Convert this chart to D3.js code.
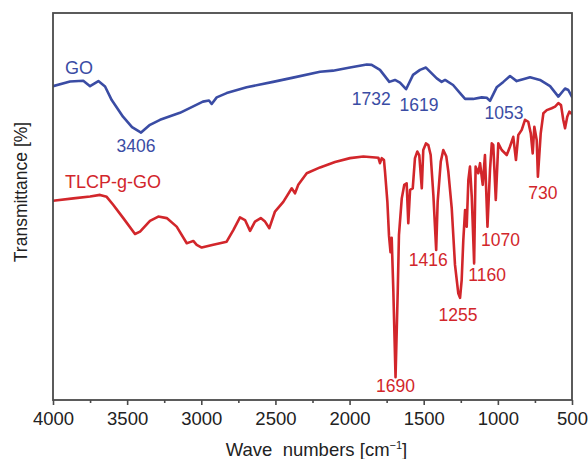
<!DOCTYPE html>
<html>
<head>
<meta charset="utf-8">
<script src="https://cdn.jsdelivr.net/npm/d3@7"></script>
<style>
  html, body { margin: 0; padding: 0; background: #fff; }
  svg { display: block; }
  text { font-family: "Liberation Sans", Arial, Helvetica, sans-serif; }
</style>
</head>
<body>
<div id="chart"></div>
<script>
// FTIR spectra: GO and TLCP-g-GO (wavenumber in cm-1, transmittance in arbitrary %)
const xTicks = [4000, 3500, 3000, 2500, 2000, 1500, 1000, 500];
const xMinorTicks = [3750, 3250, 2750, 2250, 1750, 1250, 750];

const goWave = [4000, 3885, 3796, 3750, 3694, 3649, 3604, 3528, 3467, 3406,
  3346, 3278, 3144, 2989, 2948, 2930, 2896, 2829, 2694, 2516,
  2381, 2199, 2112, 1997, 1884, 1851, 1795, 1732, 1694, 1660,
  1619, 1572, 1525, 1485, 1446, 1412, 1379, 1356, 1302, 1255,
  1221, 1167, 1109, 1075, 1053, 1008, 963, 918, 873, 830,
  783, 716, 648, 592, 547, 525, 500];
const goT = [81.1, 82.3, 82.5, 81.1, 82.4, 81.0, 77.5, 73.2, 70.5, 69.1,
  71.1, 72.4, 74.2, 77.1, 77.4, 76.5, 78.2, 79.3, 80.8, 82.2,
  83.3, 84.8, 85.1, 85.9, 86.7, 86.6, 85.3, 82.2, 82.7, 82.0,
  80.3, 84.0, 85.3, 85.9, 84.4, 83.1, 82.2, 82.7, 81.4, 79.3,
  77.8, 77.8, 78.2, 78.1, 77.3, 80.8, 82.2, 83.7, 82.4, 82.9,
  83.4, 82.7, 81.1, 78.4, 80.5, 80.1, 78.3];

const tlcpWave = [4000, 3863, 3750, 3683, 3638, 3593, 3526, 3447, 3413, 3346,
  3290, 3233, 3166, 3098, 3076, 3054, 3031, 2997, 2919, 2829,
  2784, 2739, 2705, 2671, 2638, 2599, 2570, 2541, 2503, 2447,
  2390, 2368, 2346, 2289, 2199, 2098, 1997, 1907, 1806, 1795,
  1783, 1768, 1761, 1745, 1734, 1724, 1716, 1705, 1690, 1675,
  1667, 1648, 1631, 1615, 1604, 1592, 1574, 1559, 1543, 1530,
  1513, 1503, 1485, 1469, 1453, 1435, 1416, 1406, 1385, 1368,
  1348, 1334, 1311, 1289, 1267, 1255, 1244, 1233, 1221, 1210,
  1199, 1188, 1176, 1160, 1150, 1132, 1120, 1102, 1087, 1070,
  1053, 1041, 1031, 1014, 997, 974, 940, 918, 896, 878,
  862, 839, 817, 795, 778, 765, 754, 738, 730, 711,
  693, 670, 637, 614, 592, 574, 559, 547, 532, 518, 500];
const tlcpT = [51.5, 52.1, 52.6, 53.0, 52.5, 50.4, 47.0, 42.9, 43.5, 46.3,
  47.4, 47.0, 44.8, 40.5, 40.8, 41.1, 40.1, 39.4, 40.1, 40.9,
  43.9, 47.2, 46.5, 43.7, 46.1, 47.0, 46.1, 44.4, 48.7, 51.2,
  54.7, 53.4, 55.6, 58.6, 60.1, 61.5, 62.5, 62.9, 62.6, 61.2,
  62.5, 62.0, 59.0, 51.2, 42.4, 38.2, 41.9, 28.4, 5.9, 28.4,
  42.6, 52.1, 55.6, 56.0, 45.7, 54.3, 54.7, 62.5, 64.2, 63.3,
  54.7, 64.6, 66.3, 65.9, 63.3, 53.0, 38.8, 51.2, 61.6, 64.6,
  63.0, 59.0, 49.5, 34.9, 27.6, 26.4, 31.0, 41.3, 49.1, 44.8,
  56.8, 60.3, 52.5, 35.3, 60.3, 58.6, 61.2, 55.6, 63.3, 44.8,
  59.4, 66.3, 65.9, 51.7, 66.3, 64.6, 63.3, 65.5, 68.0, 62.0,
  68.5, 69.8, 72.4, 71.9, 68.9, 63.7, 70.6, 67.2, 57.7, 68.9,
  74.1, 74.9, 75.4, 75.8, 76.7, 76.2, 72.4, 70.2, 73.2, 74.5, 73.9];

// Annotated band positions (cm-1)
const goPeaks = [3406, 1732, 1619, 1053];
const tlcpPeaks = [1690, 1416, 1255, 1160, 1070, 730];

const W = 588, H = 459;
const margin = { left: 53, right: 16, top: 13, bottom: 59 };
const plotW = W - margin.left - margin.right;
const plotH = H - margin.top - margin.bottom;

const blue = "#3a4ca4";
const red = "#d2262b";
const frameColor = "#4a4a4a";

const svg = d3.select("#chart").append("svg")
  .attr("width", W).attr("height", H);

const x = d3.scaleLinear().domain([4000, 500]).range([0, plotW]);
const y = d3.scaleLinear().domain([0, 100]).range([plotH, 0]);

const g = svg.append("g").attr("transform", `translate(${margin.left},${margin.top})`);

g.append("clipPath").attr("id", "plotClip")
  .append("rect").attr("width", plotW).attr("height", plotH);

const line = d3.line().x(d => x(d[0])).y(d => y(d[1]));

const goData = d3.zip(goWave, goT);
const tlcpData = d3.zip(tlcpWave, tlcpT);

const curves = g.append("g").attr("clip-path", "url(#plotClip)");
curves.append("path").datum(goData)
  .attr("d", line).attr("fill", "none")
  .attr("stroke", blue).attr("stroke-width", 2.6)
  .attr("stroke-linejoin", "round").attr("stroke-linecap", "round");
curves.append("path").datum(tlcpData)
  .attr("d", line).attr("fill", "none")
  .attr("stroke", red).attr("stroke-width", 2.6)
  .attr("stroke-linejoin", "round").attr("stroke-linecap", "round");

// Frame
g.append("rect").attr("width", plotW).attr("height", plotH)
  .attr("fill", "none").attr("stroke", frameColor).attr("stroke-width", 1.8);

// Bottom axis: major ticks with labels, minor ticks between
const axisMajor = d3.axisBottom(x).tickValues(xTicks).tickSize(5).tickPadding(7)
  .tickFormat(d3.format("d"));
const axisMinor = d3.axisBottom(x).tickValues(xMinorTicks).tickSize(3).tickFormat("");

const ax1 = g.append("g").attr("transform", `translate(0,${plotH})`).call(axisMajor);
const ax2 = g.append("g").attr("transform", `translate(0,${plotH})`).call(axisMinor);
[ax1, ax2].forEach(a => {
  a.select(".domain").remove();
  a.selectAll(".tick line").attr("stroke", frameColor).attr("stroke-width", 1.6);
});
ax1.selectAll(".tick text")
  .attr("font-size", 18.5).attr("fill", "#222")
  .style("font-family", '"Liberation Sans", Arial, sans-serif');

// Axis titles
const xTitle = svg.append("text")
  .attr("x", margin.left + plotW / 2 + 4).attr("y", 455.5)
  .attr("text-anchor", "middle").attr("font-size", 18.5).attr("fill", "#222");
xTitle.append("tspan").text("Wave\u00a0\u00a0numbers [cm");
xTitle.append("tspan").attr("font-size", 11).attr("dy", -7).text("\u22121");
xTitle.append("tspan").attr("dy", 7).text("]");

svg.append("text")
  .attr("transform", "translate(27,192) rotate(-90)")
  .attr("text-anchor", "middle").attr("font-size", 17.5).attr("fill", "#222")
  .text("Transmittance [%]");

// Series labels
g.append("text").attr("x", 12).attr("y", 61)
  .attr("font-size", 18).attr("fill", blue).text("GO");
g.append("text").attr("x", 12).attr("y", 175)
  .attr("font-size", 18).attr("fill", red).text("TLCP-g-GO");

// Band labels, placed relative to each band's point on its curve
const valueAt = (waves, vals, w) => vals[waves.indexOf(w)];
const goOffsets = { 3406: [-5, 19], 1732: [-18, 23], 1619: [13, 22], 1053: [14, 18.5] };
const tlcpOffsets = { 1690: [0, 15], 1416: [-8, 16.5], 1255: [-2, 23.5],
  1160: [13, 18], 1070: [13, 19], 730: [5, 22] };

function bandLabels(peaks, waves, vals, offsets, color) {
  g.selectAll(null).data(peaks).enter().append("text")
    .attr("x", d => x(d) + offsets[d][0])
    .attr("y", d => y(valueAt(waves, vals, d)) + offsets[d][1])
    .attr("text-anchor", "middle").attr("font-size", 17.5).attr("fill", color)
    .text(d => d);
}
bandLabels(goPeaks, goWave, goT, goOffsets, blue);
bandLabels(tlcpPeaks, tlcpWave, tlcpT, tlcpOffsets, red);
</script>
</body>
</html>
